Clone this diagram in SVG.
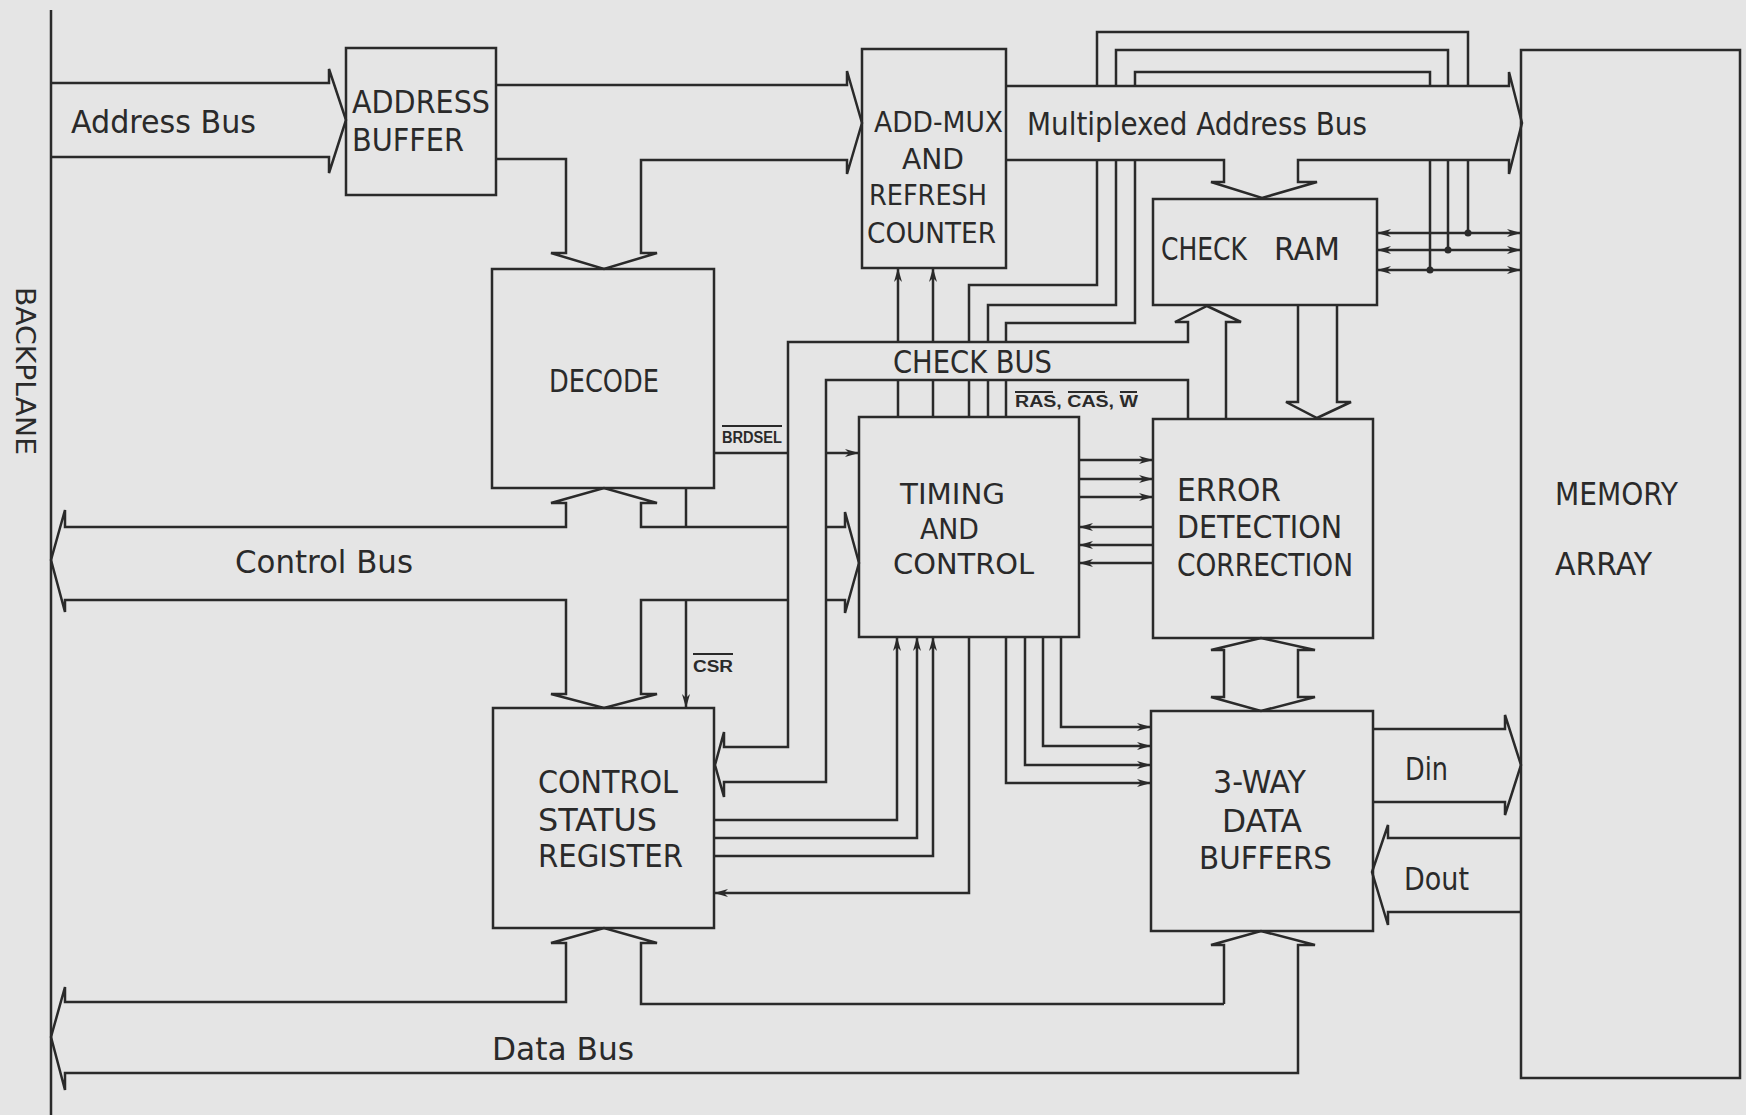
<svg xmlns="http://www.w3.org/2000/svg" width="1746" height="1115" viewBox="0 0 1746 1115">
<defs>
<style>
.ln{fill:none;stroke:#2a2a2a;stroke-width:2.5;stroke-linejoin:miter}
.box{fill:none;stroke:#2a2a2a;stroke-width:2.5}
.t{font-family:'Liberation Sans Narrow','DejaVu Sans Condensed','Liberation Sans',sans-serif;font-size:32px;fill:#2a2a2a}
.tb{font-size:29px}
.s{font-family:'Liberation Sans','DejaVu Sans',sans-serif;font-size:16px;font-weight:bold;fill:#2a2a2a}
.ov{stroke:#2a2a2a;stroke-width:2}
.ar{marker-end:url(#ah)}
.dar{marker-end:url(#ah);marker-start:url(#ah)}
</style>
<marker id="ah" viewBox="0 0 14 8" refX="14" refY="4" markerWidth="14" markerHeight="8" markerUnits="userSpaceOnUse" orient="auto-start-reverse">
<path d="M0,0 L14,4 L0,8 L4,4 Z" fill="#2a2a2a"/>
</marker>
</defs>
<rect x="0" y="0" width="1746" height="1115" fill="#e5e5e5"/>

<g id="backplane">
<path class="ln" d="M51,10 V1115"/>
<text class="t" transform="translate(16,287) rotate(90)" style="font-size:27px" textLength="168" lengthAdjust="spacingAndGlyphs">BACKPLANE</text>
</g>

<g id="connectors">
<path class="ln" d="M51,83 H329 V69 L346,120 L329,173 V157 H51"/>
<path class="ln" d="M496,85 H847 V71 L862,123 L847,174 V160 H641 V253 H657 L604,269 L551,253 H566 V159 H496"/>
<path class="ln" d="M1006,86 H1509 V72 L1522,123 L1509,174 V160 H1298 V182 H1317 L1262,198 L1211,182 H1224 V160 H1006"/>
<path class="ln" d="M788,527 H641 V503 H657 L604,488 L551,503 H566 V527 H65 V510 L51,560 L65,612 V600 H566 V694 H551 L604,708 L657,694 H641 V600 H788"/>
<path class="ln" d="M686,488 V527"/>
<path class="ln" d="M826,527 H845 V512 L859,563 L845,613 V600 H826"/>
<path class="ln" d="M714,453 H788"/>
<path class="ln ar" d="M826,453 H859"/>
<path class="ln ar" d="M686,601 V708"/>
<path class="ln" d="M1226,419 V322 H1241 L1207,306 L1175,322 H1188 V342 H788 V747 H724 V732 L715,765 L724,797 V782 H826 V380 H1188 V419"/>
<path class="ln" d="M1298,305 V402 H1286 L1317,418 L1351,402 H1337 V305"/>
<path class="ln" d="M1224,697 V650 H1211 L1261,638 L1315,650 H1298 V697 H1315 L1261,711 L1211,697 Z"/>
<path class="ln" d="M1224,1004 V945 H1211 L1261,931 L1315,945 H1298 V1073 H65 V1090 L51,1037 L65,987 V1002 H566 V943 H551 L604,928 L657,943 H641 V1004 H1224"/>
<path class="ln" d="M1373,729 H1505 V715 L1521,765 L1505,815 V802 H1373"/>
<path class="ln" d="M1521,838 H1388 V825 L1372,872 L1388,925 V912 H1521"/>
<path class="ln ar" d="M898,342 V268"/>
<path class="ln ar" d="M933,342 V268"/>
<path class="ln" d="M898,417 V380 M933,417 V380"/>
<path class="ln" d="M969,417 V380 M969,342 V285 H1097 V160 M1097,86 V32 H1468 V86 M1468,160 V233"/>
<path class="ln" d="M988,417 V380 M988,342 V305 H1116 V160 M1116,86 V50 H1448 V86 M1448,160 V250"/>
<path class="ln" d="M1006,417 V380 M1006,342 V323 H1135 V160 M1135,86 V72 H1430 V86 M1430,160 V270"/>
<path class="ln dar" d="M1377,233 H1521"/>
<path class="ln dar" d="M1377,250 H1521"/>
<path class="ln dar" d="M1377,270 H1521"/>
<circle cx="1468" cy="233" r="3.5" fill="#2a2a2a"/>
<circle cx="1448" cy="250" r="3.5" fill="#2a2a2a"/>
<circle cx="1430" cy="270" r="3.5" fill="#2a2a2a"/>
<path class="ln ar" d="M1079,460 H1153"/>
<path class="ln ar" d="M1079,479 H1153"/>
<path class="ln ar" d="M1079,497 H1153"/>
<path class="ln ar" d="M1153,527 H1079"/>
<path class="ln ar" d="M1153,545 H1079"/>
<path class="ln ar" d="M1153,563 H1079"/>
<path class="ln ar" d="M714,820 H897 V637"/>
<path class="ln ar" d="M714,838 H917 V637"/>
<path class="ln ar" d="M714,856 H933 V637"/>
<path class="ln ar" d="M969,637 V893 H714"/>
<path class="ln ar" d="M1006,637 V783 H1151"/>
<path class="ln ar" d="M1025,637 V765 H1151"/>
<path class="ln ar" d="M1043,637 V746 H1151"/>
<path class="ln ar" d="M1061,637 V727 H1151"/>
</g>

<g id="bus-labels">
<text class="t" x="71" y="133" textLength="185" lengthAdjust="spacingAndGlyphs">Address Bus</text>
<text class="t" x="1027" y="135" textLength="340" lengthAdjust="spacingAndGlyphs">Multiplexed Address Bus</text>
<text class="t" x="235" y="573" textLength="178" lengthAdjust="spacingAndGlyphs">Control Bus</text>
<text class="t" x="492" y="1060" textLength="142" lengthAdjust="spacingAndGlyphs">Data Bus</text>
<text class="t" x="893" y="373" textLength="159" lengthAdjust="spacingAndGlyphs">CHECK BUS</text>
<text class="t" x="1405" y="780" textLength="43" lengthAdjust="spacingAndGlyphs">Din</text>
<text class="t" x="1404" y="890" textLength="65" lengthAdjust="spacingAndGlyphs">Dout</text>
<text class="s" x="722" y="443" textLength="60" lengthAdjust="spacingAndGlyphs">BRDSEL</text>
<path class="ov" d="M722,426 H782"/>
<text class="s" x="1015" y="407" textLength="123" lengthAdjust="spacingAndGlyphs">RAS, CAS, W</text>
<path class="ov" d="M1015,392 H1053 M1068,392 H1105 M1120,392 H1137"/>
<text class="s" x="693" y="672" textLength="40" lengthAdjust="spacingAndGlyphs">CSR</text>
<path class="ov" d="M693,654 H733"/>
</g>

<g id="address-buffer">
<rect class="box" x="346" y="48" width="150" height="147"/>
<text class="t" x="352" y="113" textLength="138" lengthAdjust="spacingAndGlyphs">ADDRESS</text>
<text class="t" x="352" y="151" textLength="112" lengthAdjust="spacingAndGlyphs">BUFFER</text>
</g>

<g id="add-mux">
<rect class="box" x="862" y="49" width="144" height="219"/>
<text class="t tb" x="874" y="132" textLength="129" lengthAdjust="spacingAndGlyphs">ADD-MUX</text>
<text class="t tb" x="902" y="169" textLength="62" lengthAdjust="spacingAndGlyphs">AND</text>
<text class="t tb" x="869" y="205" textLength="118" lengthAdjust="spacingAndGlyphs">REFRESH</text>
<text class="t tb" x="867" y="243" textLength="129" lengthAdjust="spacingAndGlyphs">COUNTER</text>
</g>

<g id="check-ram">
<rect class="box" x="1153" y="199" width="224" height="106"/>
<text class="t" x="1161" y="260" textLength="86" lengthAdjust="spacingAndGlyphs">CHECK</text>
<text class="t" x="1274" y="260" textLength="66" lengthAdjust="spacingAndGlyphs">RAM</text>
</g>

<g id="decode">
<rect class="box" x="492" y="269" width="222" height="219"/>
<text class="t" x="549" y="392" textLength="110" lengthAdjust="spacingAndGlyphs">DECODE</text>
</g>

<g id="timing-control">
<rect class="box" x="859" y="417" width="220" height="220"/>
<text class="t tb" x="900" y="504" textLength="105" lengthAdjust="spacingAndGlyphs">TIMING</text>
<text class="t tb" x="920" y="539" textLength="59" lengthAdjust="spacingAndGlyphs">AND</text>
<text class="t tb" x="893" y="574" textLength="141" lengthAdjust="spacingAndGlyphs">CONTROL</text>
</g>

<g id="error-detection">
<rect class="box" x="1153" y="419" width="220" height="219"/>
<text class="t" x="1177" y="501" textLength="104" lengthAdjust="spacingAndGlyphs">ERROR</text>
<text class="t" x="1177" y="538" textLength="165" lengthAdjust="spacingAndGlyphs">DETECTION</text>
<text class="t" x="1177" y="576" textLength="176" lengthAdjust="spacingAndGlyphs">CORRECTION</text>
</g>

<g id="control-status-register">
<rect class="box" x="493" y="708" width="221" height="220"/>
<text class="t" x="538" y="793" textLength="140" lengthAdjust="spacingAndGlyphs">CONTROL</text>
<text class="t" x="538" y="831" textLength="119" lengthAdjust="spacingAndGlyphs">STATUS</text>
<text class="t" x="538" y="867" textLength="145" lengthAdjust="spacingAndGlyphs">REGISTER</text>
</g>

<g id="data-buffers">
<rect class="box" x="1151" y="711" width="222" height="220"/>
<text class="t" x="1213" y="793" textLength="93" lengthAdjust="spacingAndGlyphs">3-WAY</text>
<text class="t" x="1222" y="832" textLength="80" lengthAdjust="spacingAndGlyphs">DATA</text>
<text class="t" x="1199" y="869" textLength="133" lengthAdjust="spacingAndGlyphs">BUFFERS</text>
</g>

<g id="memory-array">
<rect class="box" x="1521" y="50" width="219" height="1028"/>
<text class="t" x="1555" y="505" textLength="123" lengthAdjust="spacingAndGlyphs">MEMORY</text>
<text class="t" x="1555" y="575" textLength="97" lengthAdjust="spacingAndGlyphs">ARRAY</text>
</g>
</svg>
